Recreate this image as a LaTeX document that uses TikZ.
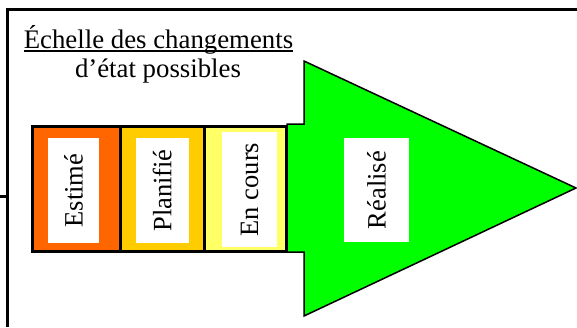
\documentclass[tikz,border=0pt]{standalone}
\usepackage{fontspec}
\setmainfont{Liberation Serif}
\usepackage{tikz}
\usetikzlibrary{positioning,calc}
\definecolor{StateOrange}{HTML}{FF6600}
\definecolor{StateGold}{HTML}{FFCC00}
\definecolor{StateYellow}{HTML}{FFFF66}
\definecolor{StateGreen}{HTML}{00FF00}

\begin{document}
\begin{tikzpicture}[x=1pt,y=-1pt,
    statebox/.style={draw,line width=3pt,minimum height=125pt,inner sep=0pt},
    labelbox/.style={fill=white,rotate=90,inner sep=0pt,font=\fontsize{26.5}{29}\selectfont}]
  \useasboundingbox (0,0) rectangle (577,327);
  \draw[line width=3pt] (7.5,327) -- (7.5,9.5) -- (577,9.5);
  \draw[line width=3pt] (0,196) -- (7.5,196);
  \node[anchor=base,inner sep=0pt,font=\fontsize{26.8}{29}\selectfont] (title) at (158.5,48) {Échelle des changements};
  \draw[line width=1.5pt] ([yshift=-3pt]title.base west) -- ([yshift=-3pt]title.base east);
  \node[anchor=base,inner sep=0pt,font=\fontsize{26.8}{29}\selectfont] (subtitle) at (158,77) {d’état possibles};
  % the arrow
  \draw[line width=1.5pt,fill=StateGreen,line join=miter]
    (287,124) -- (304,124) -- (304,61) -- (576,188) -- (304,316) -- (304,252) -- (287,252) -- cycle;
  \node[labelbox,minimum width=104pt,minimum height=65pt] (realise) at (376.5,190) {Réalisé};
  % the three states
  \node[statebox,fill=StateOrange,minimum width=88pt] (estime) at (76.5,189) {};
  \node[statebox,fill=StateGold,minimum width=83.5pt] (planifie) at (162.25,189) {};
  \node[statebox,fill=StateYellow,minimum width=82.5pt] (encours) at (245.25,189) {};
  \node[labelbox,minimum width=105pt,minimum height=51pt] at ($(estime)+(-3,1.5)$) {Estimé};
  \node[labelbox,minimum width=105pt,minimum height=53pt] at ($(planifie)+(0,1.5)$) {Planifié};
  \node[labelbox,minimum width=115pt,minimum height=55pt] at ($(encours)+(4.25,0.5)$) {En cours};
\end{tikzpicture}
\end{document}
